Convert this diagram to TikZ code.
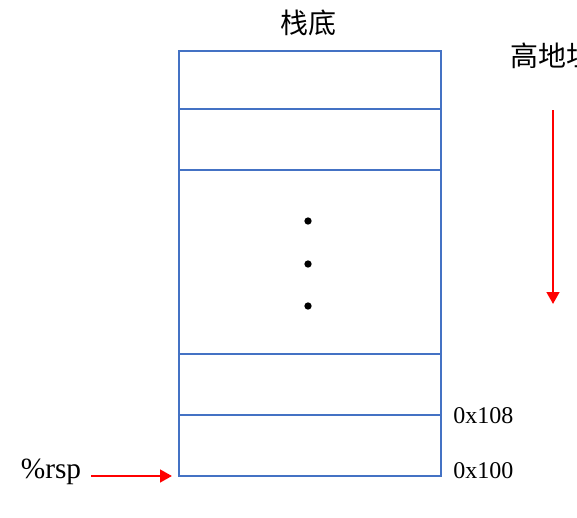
\documentclass[tikz,border=0pt]{standalone}
\usepackage{fontspec}
\setmainfont{Liberation Serif}
\newfontfamily\cjk{Noto Sans CJK SC}
\usetikzlibrary{arrows.meta}
\definecolor{blueline}{RGB}{68,114,196}
\begin{document}
\begin{tikzpicture}[x=0.75pt,y=-0.75pt,
  cell/.style={draw=blueline, line width=1.6pt, inner sep=0pt, outer sep=0pt, anchor=north west, minimum width=196.5pt},
  redarrow/.style={draw=red, line width=1.9pt, -{Triangle[length=9pt,width=9.5pt]}},
  addr/.style={font=\fontsize{18pt}{20pt}\selectfont, anchor=west, inner sep=0pt},
  cjklabel/.style={font=\cjk\fontsize{21pt}{23pt}\selectfont},
  dotmark/.style={circle, fill=black, inner sep=0pt, minimum size=5.5pt}]
\useasboundingbox (0,0) rectangle (577,517);
\node[cell, minimum height=43.5pt] (c1) at (179,51) {};
\node[cell, minimum height=45.75pt] (c2) at (179,109) {};
\node[cell, minimum height=138pt] (c3) at (179,170) {};
\node[cell, minimum height=45.75pt] (c4) at (179,354) {};
\node[cell, minimum height=45.75pt] (c5) at (179,415) {};
\node[cjklabel] (title) at (308,23) {栈底};
\node[cjklabel, anchor=west, inner sep=0pt] (high) at (510,56) {高地址};
\node[dotmark] (d1) at (308,221) {};
\node[dotmark] (d2) at (308,264) {};
\node[dotmark] (d3) at (308,306) {};
\coordinate (ra) at (553,110);
\coordinate (rb) at (553,304);
\draw[redarrow] (ra) -- (rb);
\node[addr] (a108) at (453,416) {0x108};
\node[addr] (a100) at (453,471) {0x100};
\node[font=\fontsize{22pt}{24pt}\selectfont, inner sep=0pt] (rsp) at (51,472) {\%rsp};
\coordinate (rs) at (91,476);
\draw[redarrow] (rs) -- ([xshift=-5.25pt]c5.south west);
\end{tikzpicture}
\end{document}
